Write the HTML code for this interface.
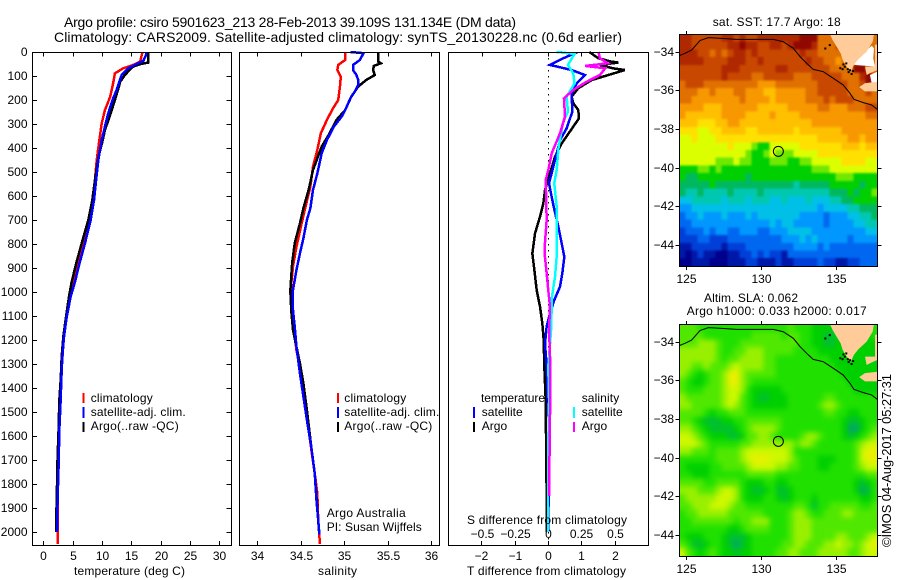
<!DOCTYPE html>
<html lang="en">
<head>
<meta charset="utf-8">
<title>Argo profile chart</title>
<style>
html,body{margin:0;padding:0;background:#fff;}
svg{display:block;}
text{font-family:"Liberation Sans",Arial,sans-serif;font-size:12px;fill:#000;}
.t{font-size:14px;}
</style>
</head>
<body>
<svg id="chart" width="900" height="580" viewBox="0 0 900 580" xmlns="http://www.w3.org/2000/svg">
  <defs>
    <filter id="softSst" x="0" y="0" width="1" height="1" color-interpolation-filters="sRGB">
      <feGaussianBlur stdDeviation="1"/>
      <feComponentTransfer><feFuncA type="linear" slope="4"/></feComponentTransfer>
    </filter>
    <filter id="softSla" x="0" y="0" width="1" height="1" color-interpolation-filters="sRGB">
      <feGaussianBlur stdDeviation="2.6"/>
      <feComponentTransfer><feFuncA type="linear" slope="4"/></feComponentTransfer>
    </filter>
  </defs>
  <text class="t" x="64" y="27" textLength="452">Argo profile: csiro 5901623_213 28-Feb-2013 39.109S 131.134E (DM data)</text>
  <text class="t" x="54" y="42" textLength="568">Climatology: CARS2009. Satellite-adjusted climatology: synTS_20130228.nc (0.6d earlier)</text>

  <g id="sstMap"></g>
  <g id="slaMap"></g>
  <g id="panelT"></g>
  <g id="panelS"></g>
  <g id="panelD"></g>

  <rect x="32.5" y="52.5" width="199" height="493" fill="none" stroke="#000"/>
  <rect x="239.5" y="52.5" width="200" height="493" fill="none" stroke="#000"/>
  <rect x="448.5" y="52.5" width="200" height="493" fill="none" stroke="#000"/>
  <rect x="679.5" y="34.5" width="198" height="232" fill="none" stroke="#000"/>
  <rect x="679.5" y="324.5" width="198" height="232" fill="none" stroke="#000"/>

  <text x="74" y="575" textLength="111">temperature (deg C)</text>
  <text x="318" y="575" textLength="39">salinity</text>
  <text x="467" y="575" textLength="159">T difference from climatology</text>
  <text x="467" y="524" textLength="160">S difference from climatology</text>

  <g>
    <rect x="82.5" y="393" width="2" height="10" fill="#f00"/>
    <text x="90.7" y="402" textLength="62">climatology</text>
    <rect x="82.5" y="407" width="2" height="11" fill="#00f"/>
    <text x="90.7" y="416" textLength="95">satellite-adj. clim.</text>
    <rect x="82.5" y="422" width="2" height="10" fill="#000"/>
    <text x="90.7" y="430" textLength="88">Argo(..raw -QC)</text>
  </g>
  <g>
    <rect x="337" y="393" width="2" height="10" fill="#f00"/>
    <text x="344.3" y="402" textLength="62">climatology</text>
    <rect x="337" y="407" width="2" height="11" fill="#00f"/>
    <text x="344.3" y="416" textLength="95">satellite-adj. clim.</text>
    <rect x="337" y="422" width="2" height="10" fill="#000"/>
    <text x="344.3" y="430" textLength="88">Argo(..raw -QC)</text>
    <text x="326.7" y="517" textLength="79">Argo Australia</text>
    <text x="326.7" y="531" textLength="95">PI: Susan Wijffels</text>
  </g>
  <g>
    <text x="481" y="402" textLength="64">temperature</text>
    <text x="581.7" y="402" textLength="37.5">salinity</text>
    <rect x="473" y="407" width="2" height="11" fill="#00f"/>
    <text x="481.7" y="416" textLength="41">satellite</text>
    <rect x="473" y="422" width="2" height="10" fill="#000"/>
    <text x="481.7" y="430" textLength="25.5">Argo</text>
    <rect x="573" y="407" width="2" height="11" fill="#0ff"/>
    <text x="581.7" y="416" textLength="41">satellite</text>
    <rect x="573" y="422" width="2" height="10" fill="#f0f"/>
    <text x="581.7" y="430" textLength="25.5">Argo</text>
  </g>

  <text x="712.7" y="26" textLength="128">sat. SST: 17.7 Argo: 18</text>
  <text x="704" y="302" textLength="94">Altim. SLA: 0.062</text>
  <text x="686.7" y="315" textLength="180">Argo h1000: 0.033 h2000: 0.017</text>
  <text transform="translate(891 547) rotate(-90)" x="0" y="0" textLength="173" style="font-size:13px">©IMOS 04-Aug-2017 05:27:31</text>
</svg>

<script>
// ---- axis tick data ----
const depthTicks = [0,100,200,300,400,500,600,700,800,900,1000,1100,1200,1300,1400,1500,1600,1700,1800,1900,2000];
const tempTicks = [0,5,10,15,20,25,30];
const salTicks = [34,34.5,35,35.5,36];
const salTickLabels = ['34','34.5','35','35.5','36'];
const tDiffTicks = [-2,-1,0,1,2];
const tDiffLabels = ['\u22122','\u22121','0','1','2'];
const sDiffTicks = [-0.5,-0.25,0,0.25,0.5];
const sDiffLabels = ['\u22120.5','\u22120.25','0','0.25','0.5'];
const lonTicks = [125,130,135];
const latTicks = [-34,-36,-38,-40,-42,-44];

// ---- temperature profiles ----
const climTDepth = [0,40,54,68,89,130,186,242,297,367,450,533,617,700,797,873,957,1019,1103,1186,1367,1575,1853,2050];
const climT = [16.9,16.5,15.3,13.6,12.2,11.9,11.4,10.5,9.95,9.55,9.1,8.8,8.4,7.96,6.93,5.96,5.23,4.55,3.9,3.5,3,2.7,2.42,2.42];
const argoTDepth = [0,44,50,61,80,96,124,151,200,262,325,380,436,533,617,700,797,873,957,1019,1103,1186,1269,1367,1450,1575,1714,1853,1936,2000];
const argoT = [17.9,17.9,16.6,15.3,14.5,13.9,13.1,12.8,12.2,11.4,10.5,10,9.4,8.8,8.35,7.67,6.54,5.69,4.84,4.38,3.87,3.41,3.13,2.96,2.73,2.6,2.4,2.3,2.21,2.21];
const satTDepth = [0,12,37,50,68,96,124,158,193,255,311,367,450,533,617,700,797,873,957,1019,1103,1186,1269,1367,1450,1575,1714,1853,2000];
const satT = [17.6,17.5,17.05,15.9,14.5,13.35,12.95,12.5,11.9,11.07,10.5,9.95,9.37,9,8.64,8.07,7.1,6.25,5.4,4.67,3.99,3.53,3.24,3.07,2.96,2.73,2.62,2.45,2.33];

// ---- salinity profiles ----
const climSDepth = [0,33,54,75,103,144,200,235,283,339,408,478,561,651,714,811,894,1006,1089,1158,1242,1297,1755,1839,1950,2050];
const climS = [35.01,35.01,34.93,34.92,34.96,34.95,34.93,34.87,34.80,34.73,34.69,34.64,34.61,34.55,34.51,34.45,34.41,34.38,34.40,34.42,34.45,34.48,34.66,34.69,34.70,34.72];
const argoSDepth = [0,40,47,58,75,96,117,144,186,242,283,346,394,492,575,651,714,797,881,992,1075,1158,1228,1297,1381,1492,1644,1755,2000];
const argoS = [35.39,35.39,35.42,35.34,35.33,35.35,35.25,35.16,35.08,35.01,34.91,34.82,34.74,34.64,34.59,34.53,34.49,34.43,34.40,34.38,34.39,34.41,34.45,34.49,34.53,34.57,34.62,34.66,34.71];
const satSDepth = [0,5,33,54,75,96,117,138,165,193,242,269,311,367,422,506,575,651,700,776,839,908,992,1075,1144,1228,1339,1436,1533,1644,1755,1867,1992,2010];
const satS = [35.07,35.22,35.18,35.10,35.10,35.14,35.16,35.16,35.12,35.07,35.01,34.97,34.88,34.80,34.74,34.69,34.64,34.61,34.57,34.53,34.49,34.45,34.41,34.41,34.43,34.45,34.49,34.53,34.57,34.62,34.66,34.68,34.71,34.71];

// ---- differences from climatology ----
const dArgoTDepth = [0,26,40,44,54,68,75,96,117,151,186,214,242,276,311,381,436,506,575,631,686,756,839,908,992,1061,1131,1200,1311,1450,2000];
const dArgoT = [1.24,1.51,1.9,2.11,1.56,1.95,2.31,1.81,1.31,.91,.71,.76,.91,.93,.76,.41,.21,.06,-.09,-.14,-.24,-.39,-.47,-.41,-.34,-.24,-.17,-.13,-.11,-.07,-.03];
const dSatTDepth = [0,8,26,54,75,96,131,172,249,318,367,478,547,603,644,728,797,853,922,978,1033,1089,1144,1214,1311,1422,1650,2000];
const dSatT = [.3,.76,.46,.06,.71,1.11,.86,.71,.73,.56,.36,.16,.03,.11,.17,.31,.41,.49,.43,.36,.19,.06,-.04,-.09,-.04,-.01,.05,0];
const dSatSDepth = [0,8,54,89,131,186,249,290,394,492,547,644,700,853,936,1019,1158,1311,1450,1700,2000];
const dSatS = [.065,.2,.15,.19,.2,.14,.15,.115,.08,.065,.047,.065,.065,.065,.053,.03,.023,.002,.008,0,0];
const dArgoSDepth = [0,26,47,58,68,96,124,158,193,269,339,422,492,533,700,797,853,922,992,1061,1158,1262,1422,1650,1850];
const dArgoS = [.38,.39,.45,.28,.43,.39,.29,.19,.12,.128,.09,.028,.002,-.017,-.01,-.023,-.023,-.01,.002,.015,.008,.015,.017,.012,.008];

// ---- map data: colour-level values per 0.4 degree cell, north to south ----
const sstGrid = [
[16,16,15,15,15,15,15,16,16,15,16,15,15,16,16,16,16,16,16,16,17,17,17,14,14,14,15,14,14,14,14,14,14],
[16,16,15,15,15,15,15,15,16,16,17,16,16,15,15,16,16,15,16,17,17,17,16,14,14,14,15,15,14,14,14,14,14],
[16,16,16,15,15,14,15,14,15,16,16,15,16,15,15,15,15,15,15,15,16,15,15,14,14,14,14,14,14,14,14,14,14],
[16,16,16,16,15,15,15,15,16,16,16,15,15,16,15,15,15,15,15,15,15,16,15,15,14,14,13,14,14,14,14,14,14],
[15,15,15,15,15,15,15,16,16,16,15,15,15,15,15,15,16,16,15,15,15,15,15,15,15,14,14,14,14,17,17,15,14],
[15,15,15,15,15,15,15,16,15,15,15,15,14,14,15,15,15,15,15,14,14,14,15,15,15,15,15,14,14,14,16,17,14],
[14,15,15,15,14,14,14,14,14,14,14,14,14,13,13,13,14,14,14,14,14,14,14,15,15,15,15,15,14,14,15,17,15],
[14,14,14,13,13,14,13,13,13,14,14,13,13,13,12,12,13,13,13,13,13,14,14,15,15,15,15,15,14,14,14,15,14],
[14,14,13,13,13,13,13,13,13,13,14,13,13,13,13,12,13,13,13,13,13,14,14,14,15,14,15,15,15,14,14,14,14],
[13,13,13,13,12,12,12,13,13,13,13,13,13,12,12,12,12,12,13,13,13,13,13,14,14,13,13,13,14,14,14,15,15],
[13,12,12,12,12,12,12,13,13,13,13,12,12,12,12,13,12,12,12,12,13,13,13,13,13,13,13,13,13,13,13,14,14],
[12,12,12,11,11,11,12,12,13,13,12,12,12,12,12,12,12,12,12,12,12,12,13,13,13,13,13,13,13,13,13,13,13],
[11,11,11,10,10,11,11,12,12,12,12,11,11,12,12,12,12,12,12,11,12,12,12,12,12,12,12,13,13,13,13,13,13],
[10,10,11,10,10,10,11,11,11,11,11,11,11,11,11,11,11,11,11,11,11,11,11,12,12,12,12,12,13,13,12,13,13],
[10,10,10,10,10,10,10,10,11,10,10,10,9,8,8,10,10,10,10,10,11,11,11,11,11,11,11,12,12,12,11,12,12],
[10,10,10,10,10,10,10,10,10,10,10,9,8,8,9,10,9,9,9,10,10,10,10,11,11,11,11,11,11,11,11,11,11],
[10,10,10,10,10,10,9,9,9,10,9,9,8,8,8,9,9,9,8,8,9,9,10,10,10,10,10,11,11,11,11,10,10],
[8,8,8,9,9,8,9,8,8,8,8,8,8,8,8,8,8,8,8,8,8,8,9,9,9,10,10,10,10,10,10,10,10],
[8,7,7,8,8,8,8,8,8,8,8,7,8,8,8,8,8,8,8,8,8,8,8,8,8,8,9,9,9,8,8,8,8],
[7,7,7,7,7,8,7,7,7,7,7,7,7,7,7,7,7,7,7,6,7,7,7,7,7,8,8,8,8,8,7,8,8],
[7,6,6,7,6,6,6,6,7,6,6,6,6,7,6,6,6,6,6,6,6,6,6,6,6,7,7,7,8,7,8,8,9],
[5,5,6,6,6,6,6,5,6,6,6,5,6,6,6,5,5,6,5,5,5,6,5,5,5,6,6,7,7,8,8,8,8],
[4,4,5,5,5,5,5,5,5,5,5,5,5,5,5,5,5,5,5,5,5,5,5,4,5,5,5,5,6,6,7,7,7],
[3,4,4,5,4,4,4,5,4,4,4,5,4,5,5,5,5,5,5,5,4,4,4,4,3,4,4,4,5,5,6,6,7],
[3,3,4,4,4,4,4,4,4,4,4,4,4,4,4,5,4,5,5,4,4,4,4,4,3,4,4,4,4,5,5,6,6],
[2,3,3,3,4,3,4,4,3,3,4,4,4,3,3,4,4,4,5,5,5,5,4,4,4,4,4,4,4,4,4,5,5],
[2,2,2,3,3,2,2,2,3,3,3,3,3,3,3,3,3,4,4,4,5,4,5,4,4,4,4,4,3,4,4,4,4],
[1,1,2,2,2,2,2,1,2,2,2,3,3,3,3,3,3,3,3,4,4,4,4,3,4,3,3,3,3,3,3,3,3],
[1,0,1,2,1,1,0,0,1,1,2,2,3,2,3,2,2,1,3,3,3,3,3,3,3,3,3,3,3,3,3,3,3],
[0,0,1,1,1,0,0,0,1,1,1,2,2,1,1,1,2,1,1,2,2,2,2,3,2,2,1,1,2,2,3,3,3]
];
const slaGrid = [
[4,4,4,3,3,3,3,3,3,3,3,3,3,3,3,3,3,3,4,3,3,3,2,2,2,2,2,2,2,2,2,2,3],
[4,4,4,4,3,3,3,3,3,3,3,3,4,4,4,4,4,3,4,4,3,3,2,2,1,1,2,2,2,2,2,2,3],
[4,4,4,5,5,5,4,3,3,3,4,4,4,4,4,4,4,4,4,4,3,3,2,2,1,1,2,2,2,2,2,2,2],
[5,5,5,5,5,5,4,3,3,4,4,5,5,5,4,4,4,4,4,3,3,3,3,2,2,2,2,2,2,2,2,2,2],
[5,5,5,5,5,5,4,3,4,4,5,5,5,5,4,4,3,3,3,3,3,3,3,3,3,2,2,2,2,2,2,2,2],
[5,5,4,4,5,4,4,4,5,6,5,5,5,5,4,4,3,3,3,3,3,3,3,3,3,3,2,2,2,2,2,2,2],
[5,4,3,2,3,4,4,5,7,7,5,4,4,4,4,4,3,3,3,3,3,3,3,3,3,3,3,2,2,2,2,2,2],
[4,3,2,2,3,4,4,5,7,7,5,4,3,3,3,3,3,3,3,3,3,3,3,3,3,3,3,3,2,2,2,2,2],
[4,3,3,3,4,4,4,5,6,6,5,3,2,2,2,2,2,3,3,3,3,3,3,3,3,3,3,3,3,2,2,2,2],
[5,4,4,4,4,4,4,5,6,6,4,3,2,1,1,2,2,2,3,3,3,3,3,3,4,4,3,3,3,3,3,3,3],
[5,5,4,4,4,4,4,5,6,5,4,3,2,2,2,2,2,2,3,3,3,3,3,4,5,5,4,3,3,3,3,3,3],
[4,4,4,4,3,2,3,3,4,4,4,3,3,3,3,3,3,3,3,3,3,3,3,3,4,4,3,3,2,2,3,3,3],
[4,4,3,2,1,1,1,2,2,3,3,4,4,4,4,4,4,3,3,3,3,3,3,3,3,3,3,2,1,1,2,3,3],
[5,5,4,3,2,1,1,1,1,2,3,4,5,5,5,5,4,3,3,3,3,3,3,3,3,3,3,2,0,0,2,3,4],
[6,6,5,4,3,2,2,2,1,1,2,4,4,5,5,4,3,3,3,3,4,5,5,4,3,3,3,2,1,2,3,4,5],
[6,6,6,5,4,3,3,3,3,3,4,4,5,5,5,5,5,5,5,4,5,5,4,3,3,3,3,3,3,4,5,6,6],
[5,5,4,4,4,3,4,4,4,4,5,6,6,6,6,6,6,6,5,3,3,3,3,3,3,3,3,3,3,4,6,7,7],
[3,3,3,3,3,3,4,4,4,4,5,6,7,7,7,6,6,6,5,4,3,3,3,2,2,2,3,3,3,4,6,7,7],
[3,2,2,2,2,3,3,4,4,4,4,5,6,6,6,6,5,5,4,4,3,3,3,2,2,3,3,3,3,4,5,6,6],
[3,3,2,2,2,3,3,3,3,3,3,4,4,4,4,4,3,3,3,3,3,3,3,3,3,3,3,3,3,3,3,4,4],
[4,4,4,4,3,3,4,4,4,4,3,2,2,2,3,3,2,2,3,3,3,3,3,3,3,3,3,3,3,2,1,2,3],
[5,5,5,4,4,4,5,6,6,5,3,2,1,1,2,3,1,1,2,3,3,3,3,3,3,3,3,3,3,2,0,1,3],
[4,5,5,5,5,5,6,6,6,5,3,2,2,2,3,3,2,1,2,3,3,3,2,3,3,3,3,3,3,3,2,2,3],
[4,4,5,5,5,6,6,6,5,4,4,3,3,3,3,3,3,3,3,4,4,3,1,3,3,4,4,4,4,4,3,3,4],
[3,4,4,5,5,5,5,5,4,4,4,4,4,4,3,3,3,3,4,5,5,4,3,3,4,4,4,5,5,4,4,4,4],
[3,3,4,4,4,4,4,4,4,3,4,4,5,5,5,3,3,3,4,5,5,5,4,4,4,4,4,4,4,4,4,4,4],
[3,3,3,3,3,3,3,3,2,2,3,4,4,4,4,3,3,3,4,5,5,5,4,4,4,4,4,4,4,4,4,4,4],
[3,2,2,2,3,3,3,2,1,1,1,2,3,3,3,3,3,3,4,5,5,5,4,4,4,4,5,5,4,4,4,5,6],
[4,3,1,1,2,3,3,2,1,0,1,2,3,3,3,3,3,4,4,5,5,4,4,4,5,5,6,5,5,4,5,6,7],
[6,4,3,2,3,4,3,2,2,1,2,2,3,3,3,3,4,4,5,5,4,4,4,5,5,5,5,5,4,4,5,6,6]
];
const sstColors = ['#00008c','#0018a8','#0040d8','#0068f0','#0098ff','#00c0e8','#00c8b0','#00b860','#00d000','#70e800','#dcff00','#ffe000','#ffc000','#f89800','#e07000','#c84800','#b02800','#900800'];
const slaColors = ['#00a868','#00c030','#00d000','#20e000','#50e800','#98f000','#ccf800','#e8f000'];

// ---- geography ----
const shelfLon = [124.53,124.91,125.35,125.91,126.46,127.24,128.35,129.69,130.8,131.46,132.13,132.58,133.13,133.46,134.13,134.8,135.46,135.91,136.17,136.8,137.35,137.73];
const shelfLat = [-34.2,-34.08,-33.91,-33.42,-33.27,-33.3,-33.36,-33.36,-33.36,-33.48,-33.82,-34.25,-34.68,-34.91,-35.03,-35.37,-35.72,-36.15,-36.46,-36.63,-36.75,-36.98];
const mainlandLon = [134.57,134.75,135.02,135.29,135.42,135.69,135.97,136.17,136.46,137.02,137.42,137.51];
const mainlandLat = [-33.08,-33.39,-33.74,-34.08,-34.42,-34.77,-35.03,-34.68,-34.39,-33.99,-33.48,-33.08];
const yorkeLon = [137.58,137.73,137.73,137.46,137.24,137.02,136.91,137.58];
const yorkeLat = [-33.65,-33.61,-34.94,-35.03,-35.11,-35.2,-34.77,-34.77];
const islandLon = [136.52,136.91,137.73,137.73,136.91];
const islandLat = [-35.83,-35.62,-35.55,-36.05,-36.05];
const gulfLon = [136.13,136.69,137.36,137.51,137.46,137.58,136.91,136.24];
const gulfLat = [-34.65,-34.13,-33.69,-33.82,-34.34,-34.77,-34.72,-34.68];
const noData2Lon = [137.24,137.73,137.73,137.36];
const noData2Lat = [-35.2,-35.03,-35.58,-35.63];
const isletLon = [134.2,134.5,135.4,135.5,135.6,135.7,135.75,135.85,135.95,136.05,135.2,135.35];
const isletLat = [-33.78,-33.6,-34.6,-34.72,-34.55,-34.85,-35.0,-34.9,-35.1,-34.95,-34.8,-34.85];
const argoLon = [131.134];
const argoLat = [-39.109];

// ---- axis functions ----
const yDepth = d => 52 + d * 0.24;
const xTemp = t => 43.3 + t * 5.87;
const xSal = s => 257.3 + (s - 34) * 87;
const xTDiff = t => 548 + t * 33.3;
const xSDiff = s => 548 + s * 133;
const xLon = l => 679.3 + (l - 124.53) * 15;
const yLat = (l, top) => top + (-33.08 - l) * 19.33;

const NS = 'http://www.w3.org/2000/svg';
const mk = (tag, parent) => { const e = document.createElementNS(NS, tag); parent.appendChild(e); return e; };

function tickLine(parent, x1, y1, x2, y2) {
  const l = mk('line', parent);
  
  
  l.setAttribute('x1', x1); l.setAttribute('y1', y1);
  l.setAttribute('x2', x2); l.setAttribute('y2', y2);
  l.setAttribute('stroke', '#000');
  l.setAttribute('shape-rendering', 'crispEdges');
}
function tickLabel(parent, x, y, str, anchor) {
  const t = mk('text', parent);
  
  
  t.setAttribute('x', x); t.setAttribute('y', y);
  t.setAttribute('text-anchor', anchor);
  t.textContent = str;
}
function profile(parent, name, color, xs, depths, xFn) {
  const p = mk('polyline', parent);
  
  
  p.setAttribute('points', depths.map((d, i) => xFn(xs[i]).toFixed(2) + ',' + yDepth(d).toFixed(2)).join(' '));
  p.setAttribute('fill', 'none');
  p.setAttribute('stroke', color);
  p.setAttribute('stroke-width', '2.5');
  p.setAttribute('shape-rendering', 'crispEdges');
}
function heatmap(parent, grid, colors, top, name, filterId) {
  const layer = mk('g', parent);
  
  
  layer.setAttribute('filter', 'url(#' + filterId + ')');
  grid.forEach((row, r) => row.forEach((v, c) => {
    const lon0 = 124.53 + c * 0.4, lat0 = -33.08 - r * 0.4;
    const cell = mk('rect', layer);
    
    
    cell.setAttribute('x', xLon(lon0).toFixed(2));
    cell.setAttribute('y', yLat(lat0, top).toFixed(2));
    cell.setAttribute('width', (xLon(lon0 + 0.4) - xLon(lon0) + 0.4).toFixed(2));
    cell.setAttribute('height', (yLat(lat0 - 0.4, top) - yLat(lat0, top) + 0.4).toFixed(2));
    cell.setAttribute('fill', colors[Math.max(0, Math.min(colors.length - 1, Math.round(v)))]);
    cell.setAttribute('shape-rendering', 'crispEdges');
  }));
}
function geoShape(parent, name, lons, lats, top, fill) {
  const p = mk('polygon', parent);
  
  
  p.setAttribute('points', lons.map((l, i) => xLon(l).toFixed(2) + ',' + yLat(lats[i], top).toFixed(2)).join(' '));
  p.setAttribute('fill', fill);
}
function drawMap(parent, grid, colors, top, cellName, showNoData, filterId) {
  heatmap(parent, grid, colors, top, cellName, filterId);
  if (showNoData) {
    geoShape(parent, 'gulf-no-data', gulfLon, gulfLat, top, '#fff');
    geoShape(parent, 'gulf-no-data-south', noData2Lon, noData2Lat, top, '#fff');
  }
  geoShape(parent, 'mainland', mainlandLon, mainlandLat, top, '#ffcc99');
  geoShape(parent, 'yorke-peninsula', yorkeLon, yorkeLat, top, '#ffcc99');
  geoShape(parent, 'kangaroo-island', islandLon, islandLat, top, '#ffcc99');
  const s = mk('polyline', parent);
  
  
  s.setAttribute('points', shelfLon.map((l, i) => xLon(l).toFixed(2) + ',' + yLat(shelfLat[i], top).toFixed(2)).join(' '));
  s.setAttribute('fill', 'none');
  s.setAttribute('stroke', '#000');
  s.setAttribute('stroke-width', '1');
  isletLon.forEach((l, i) => {
    const dot = mk('rect', parent);
    
    
    dot.setAttribute('x', xLon(l).toFixed(1));
    dot.setAttribute('y', yLat(isletLat[i], top).toFixed(1));
    dot.setAttribute('width', '2');
    dot.setAttribute('height', '2');
    dot.setAttribute('fill', '#000');
  });
  const m = mk('circle', parent);
  
  
  m.setAttribute('cx', xLon(argoLon[0]).toFixed(2));
  m.setAttribute('cy', (yLat(argoLat[0], top) + 0.8).toFixed(2));
  m.setAttribute('r', '5');
  m.setAttribute('fill', 'none');
  m.setAttribute('stroke', '#000');
  lonTicks.forEach(l => {
    const x = Math.round(xLon(l)) + 0.5;
    tickLine(parent, x, top + 0.5, x, top - 3);
    tickLine(parent, x, top + 232.5, x, top + 236);
    tickLabel(parent, x, top + 249, String(l), 'middle');
  });
  latTicks.forEach(l => {
    const y = Math.round(yLat(l, top)) + 0.5;
    tickLine(parent, 679.5, y, 675.5, y);
    tickLine(parent, 877.5, y, 881.5, y);
    tickLabel(parent, 674, y + 3.5, '\u2212' + Math.abs(l), 'end');
  });
}

// ---- draw ----
const gT = document.getElementById('panelT');
const gS = document.getElementById('panelS');
const gD = document.getElementById('panelD');

// temperature panel
depthTicks.forEach(d => {
  const y = Math.round(yDepth(d)) + 0.5;
  tickLine(gT, 32.5, y, 37, y);
  tickLine(gT, 231.5, y, 226.5, y);
  tickLabel(gT, 27.5, y + 3.5, String(d), 'end');
});
tempTicks.forEach(t => {
  const x = Math.round(xTemp(t)) + 0.5;
  tickLine(gT, x, 52.5, x, 56.5);
  tickLine(gT, x, 545.5, x, 541);
  tickLabel(gT, x, 560, String(t), 'middle');
});
profile(gT, 'climatology-temperature-line', '#f00', climT, climTDepth, xTemp);
profile(gT, 'argo-temperature-line', '#000', argoT, argoTDepth, xTemp);
profile(gT, 'satellite-temperature-line', '#00f', satT, satTDepth, xTemp);

// salinity panel
salTicks.forEach((s, i) => {
  const x = Math.round(xSal(s)) + 0.5;
  tickLine(gS, x, 52.5, x, 56.5);
  tickLine(gS, x, 545.5, x, 541);
  tickLabel(gS, x, 560, salTickLabels[i], 'middle');
});
profile(gS, 'climatology-salinity-line', '#f00', climS, climSDepth, xSal);
profile(gS, 'argo-salinity-line', '#000', argoS, argoSDepth, xSal);
profile(gS, 'satellite-salinity-line', '#00f', satS, satSDepth, xSal);

// difference panel
tDiffTicks.forEach((t, i) => {
  const x = Math.round(xTDiff(t)) + 0.5;
  tickLine(gD, x, 545.5, x, 541);
  tickLabel(gD, x, 560, tDiffLabels[i], 'middle');
});
sDiffTicks.forEach((s, i) => {
  const x = Math.round(xSDiff(s)) + 0.5;
  tickLine(gD, x, 52.5, x, 56.5);
  tickLabel(gD, x, 538, sDiffLabels[i], 'middle');
});
const zero = mk('line', gD);


zero.setAttribute('x1', xTDiff(0) + 0.5);
zero.setAttribute('x2', xTDiff(0) + 0.5);
zero.setAttribute('y1', yDepth(0));
zero.setAttribute('y2', yDepth(2040));
zero.setAttribute('stroke', '#000');
zero.setAttribute('stroke-dasharray', '1.5 4.5');
profile(gD, 'argo-t-difference-line', '#000', dArgoT, dArgoTDepth, xTDiff);
profile(gD, 'satellite-t-difference-line', '#00f', dSatT, dSatTDepth, xTDiff);
profile(gD, 'satellite-s-difference-line', '#0ff', dSatS, dSatSDepth, xSDiff);
profile(gD, 'argo-s-difference-line', '#f0f', dArgoS, dArgoSDepth, xSDiff);

// maps
drawMap(document.getElementById('sstMap'), sstGrid, sstColors, 34, 'sst-cell', true, 'softSst');
drawMap(document.getElementById('slaMap'), slaGrid, slaColors, 324, 'sla-cell', false, 'softSla');
</script>
</body>
</html>
